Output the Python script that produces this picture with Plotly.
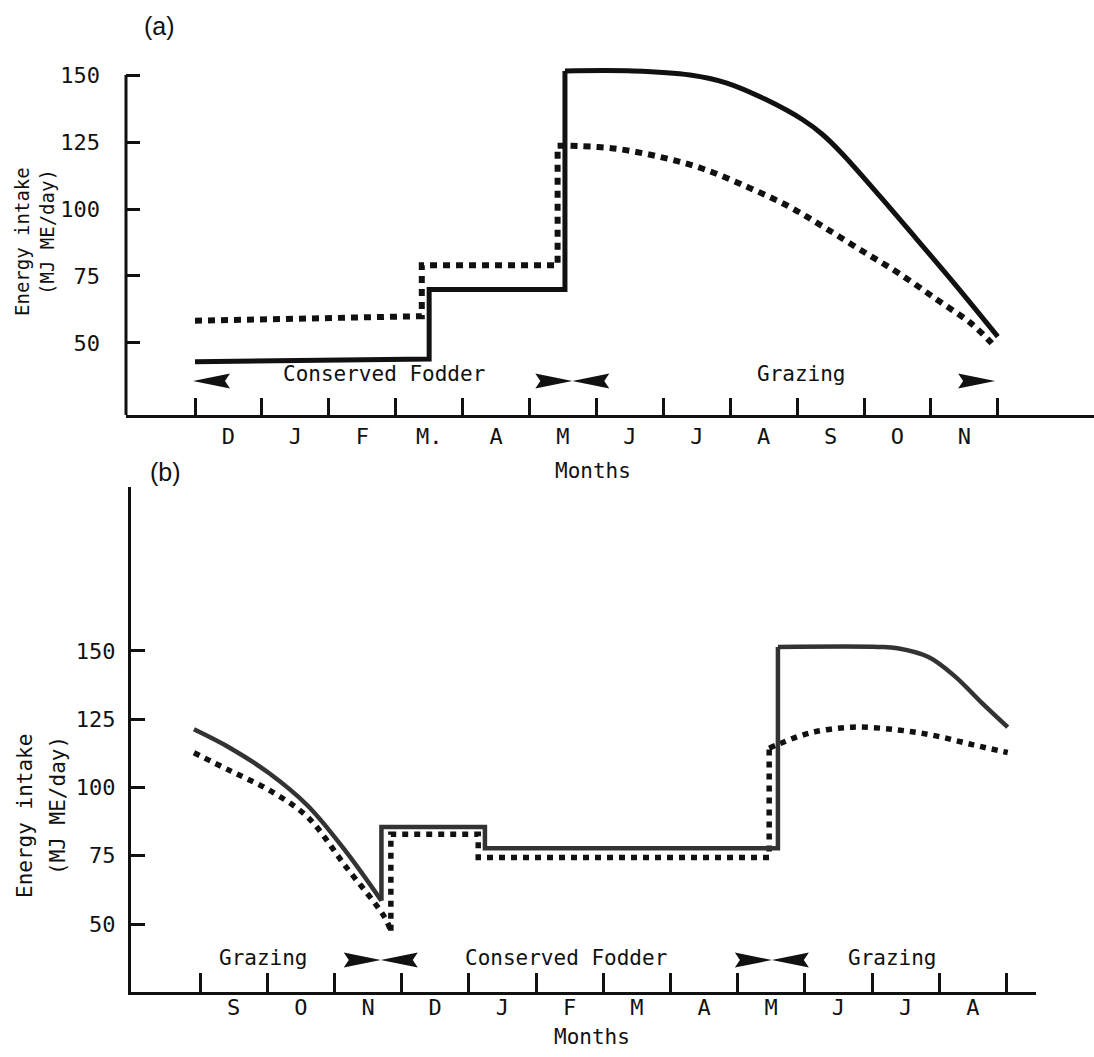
import plotly.graph_objects as go

# ---------------- data ----------------
months_a = ["D", "J", "F", "M.", "A", "M", "J", "J", "A", "S", "O", "N"]
months_b = ["S", "O", "N", "D", "J", "F", "M", "A", "M", "J", "J", "A"]
y_ticks = [50, 75, 100, 125, 150]

# panel (a) -- solid series
a_solid_fodder_x = [0.0, 3.5, 3.5, 5.53, 5.53]
a_solid_fodder_y = [43.0, 44.0, 70.0, 70.0, 151.5]
a_solid_grazing_x = [5.53, 6.55, 7.4, 7.95, 8.52, 9.09, 9.38, 9.66, 10.23, 10.8, 11.37, 12.0]
a_solid_grazing_y = [151.5, 151.5, 150.0, 147.0, 141.0, 133.2, 127.8, 121.0, 105.0, 88.4, 71.6, 52.4]
# panel (a) -- dotted series
a_dotted_fodder_x = [0.0, 3.39, 3.39, 5.42, 5.42]
a_dotted_fodder_y = [58.3, 60.0, 79.0, 79.0, 123.6]
a_dotted_grazing_x = [5.42, 5.6, 6.26, 6.94, 7.57, 8.25, 8.88, 9.39, 9.95, 10.52, 11.1, 11.6, 11.91]
a_dotted_grazing_y = [123.6, 123.6, 122.6, 119.5, 115.2, 108.3, 100.9, 93.4, 84.7, 76.0, 66.0, 57.3, 49.9]

# panel (b) -- solid series
b_solid_graze1_x = [-0.09, 0.46, 1.03, 1.6, 2.17, 2.70]
b_solid_graze1_y = [121.3, 114.3, 105.2, 93.4, 76.6, 58.5]
b_solid_fodder_x = [2.70, 2.70, 4.24, 4.24, 8.6, 8.6]
b_solid_fodder_y = [58.5, 85.5, 85.5, 77.7, 77.7, 151.5]
b_solid_graze2_x = [8.6, 10.1, 10.38, 10.84, 11.23, 11.63, 12.02]
b_solid_graze2_y = [151.5, 151.5, 151.0, 147.8, 140.8, 131.1, 122.1]
# panel (b) -- dotted series
b_dotted_graze1_x = [-0.09, 0.46, 1.03, 1.6, 2.17, 2.74, 2.84]
b_dotted_graze1_y = [112.7, 106.0, 99.0, 89.2, 71.0, 52.8, 47.5]
b_dotted_fodder_x = [2.84, 2.84, 4.14, 4.14, 8.47, 8.47]
b_dotted_fodder_y = [47.5, 82.9, 82.9, 74.4, 74.4, 114.4]
b_dotted_graze2_x = [8.47, 8.63, 9.08, 9.71, 10.38, 10.95, 11.51, 12.02]
b_dotted_graze2_y = [114.4, 116.1, 120.0, 122.1, 121.1, 118.9, 115.6, 112.8]

# phase labels and arrows (month positions)
a_phase_labels = ["Conserved Fodder", "Grazing"]
a_phase_label_x = [2.83, 9.07]
a_arrow_tips = [-0.03, 5.64, 5.64, 11.96]
a_arrow_dirs = ["left", "right", "left", "right"]
b_phase_labels = ["Grazing", "Conserved Fodder", "Grazing"]
b_phase_label_x = [0.94, 5.45, 10.31]
b_arrow_tips = [2.69, 2.69, 8.51, 8.51]
b_arrow_dirs = ["right", "left", "right", "left"]

# ---------------- figure ----------------
W, H = 1094, 1057
MONO = "DejaVu Sans Mono"
fig = go.Figure()

def add_line(x, y, xa, ya, color, width, dash, shape):
    fig.add_trace(go.Scatter(
        x=x, y=y, xaxis=xa, yaxis=ya, mode="lines",
        line=dict(color=color, width=width, dash=dash, shape=shape,
                  smoothing=1.0 if shape == "spline" else None),
        showlegend=False, hoverinfo="skip"))

# panel a
add_line(a_dotted_fodder_x, a_dotted_fodder_y, "x", "y", "#111111", 6, "7px,6px", "linear")
add_line(a_dotted_grazing_x, a_dotted_grazing_y, "x", "y", "#111111", 6, "7px,6px", "spline")
add_line(a_solid_fodder_x, a_solid_fodder_y, "x", "y", "#111111", 5, "solid", "linear")
add_line(a_solid_grazing_x, a_solid_grazing_y, "x", "y", "#111111", 5, "solid", "spline")
# panel b
add_line(b_dotted_graze1_x, b_dotted_graze1_y, "x2", "y2", "#111111", 5.5, "6px,6px", "spline")
add_line(b_dotted_fodder_x, b_dotted_fodder_y, "x2", "y2", "#111111", 5.5, "6px,6px", "linear")
add_line(b_dotted_graze2_x, b_dotted_graze2_y, "x2", "y2", "#111111", 5.5, "6px,6px", "spline")
add_line(b_solid_graze1_x, b_solid_graze1_y, "x2", "y2", "#333333", 4.5, "solid", "spline")
add_line(b_solid_fodder_x, b_solid_fodder_y, "x2", "y2", "#333333", 4.5, "solid", "linear")
add_line(b_solid_graze2_x, b_solid_graze2_y, "x2", "y2", "#333333", 4.5, "solid", "spline")

# axis geometry (pixel calibration of the original figure)
a_xrange = [-69 / 66.9, (W - 195) / 66.9]
a_yrange = [23.13, 155.0]
b_xrange = [-69 / 67.2, (1036 - 200) / 67.2]
b_yrange = [25.09, 210.07]

tickfont = dict(family=MONO, size=22, color="#111111")

def xaxis_cfg(domain, rng, labels, ticklen, standoff):
    return dict(
        domain=domain, range=rng, showgrid=False, zeroline=False,
        showline=True, linecolor="#111111", linewidth=3,
        tickmode="array", tickvals=[i + 0.5 for i in range(len(labels))],
        ticktext=labels, ticks="", tickfont=tickfont, ticklabelstandoff=standoff,
        minor=dict(tickmode="array", tickvals=list(range(len(labels) + 1)),
                   ticks="inside", ticklen=ticklen, tickwidth=2.5,
                   tickcolor="#111111", showgrid=False),
        fixedrange=True)

def yaxis_cfg(domain, rng, anchor, showline, standoff):
    return dict(
        domain=domain, range=rng, anchor=anchor, showgrid=False, zeroline=False,
        showline=showline, linecolor="#111111", linewidth=3,
        tickmode="array", tickvals=y_ticks, ticktext=[str(v) for v in y_ticks],
        ticks="inside", ticklen=14, tickwidth=2.5, tickcolor="#111111",
        tickfont=tickfont, ticklabelstandoff=standoff, fixedrange=True)

fig.update_layout(
    width=W, height=H, autosize=False,
    margin=dict(l=0, r=0, t=0, b=0),
    paper_bgcolor="white", plot_bgcolor="white",
    showlegend=False,
    xaxis=xaxis_cfg([126 / W, 1.0], a_xrange, months_a, 17, 0) | dict(anchor="y"),
    yaxis=yaxis_cfg([1 - 415 / H, 1 - 61.6 / H], a_yrange, "x", False, 25),
    xaxis2=xaxis_cfg([131 / W, 1036 / W], b_xrange, months_b, 19, -6) | dict(anchor="y2"),
    yaxis2=yaxis_cfg([1 - 992 / H, 1 - 487 / H], b_yrange, "x2", True, 8),
)

shapes = []
# panel a y-axis line ends at the top tick
shapes.append(dict(type="line", xref="x domain", yref="y", x0=0, x1=0,
                   y0=a_yrange[0], y1=max(y_ticks),
                   line=dict(color="#111111", width=3), layer="above"))

def arrow_path(direction):
    L, h, n = 37, 7.5, 5
    if direction == "left":
        return f"M0,0 L{L},{h} L{L - n},0 L{L},{-h} Z"
    return f"M0,0 L{-L},{h} L{-L + n},0 L{-L},{-h} Z"

for tip, d in zip(a_arrow_tips, a_arrow_dirs):
    shapes.append(dict(type="path", xref="x", yref="y", xsizemode="pixel", ysizemode="pixel",
                       xanchor=tip, yanchor=35.8, path=arrow_path(d),
                       fillcolor="#111111", line=dict(width=0)))
for tip, d in zip(b_arrow_tips, b_arrow_dirs):
    shapes.append(dict(type="path", xref="x2", yref="y2", xsizemode="pixel", ysizemode="pixel",
                       xanchor=tip, yanchor=36.8, path=arrow_path(d),
                       fillcolor="#111111", line=dict(width=0)))
fig.update_layout(shapes=shapes)

ann = []
for t, x in zip(a_phase_labels, a_phase_label_x):
    ann.append(dict(text=t, x=x, y=38.6, xref="x", yref="y", showarrow=False,
                    xanchor="center", yanchor="middle",
                    font=dict(family=MONO, size=21, color="#111111")))
for t, x in zip(b_phase_labels, b_phase_label_x):
    ann.append(dict(text=t, x=x, y=37.6, xref="x2", yref="y2", showarrow=False,
                    xanchor="center", yanchor="middle",
                    font=dict(family=MONO, size=21, color="#111111")))

def paper_ann(text, px, py, size, family=MONO, angle=0):
    ann.append(dict(text=text, x=px / W, y=1 - py / H, xref="paper", yref="paper",
                    showarrow=False, textangle=angle, xanchor="center", yanchor="middle",
                    font=dict(family=family, size=size, color="#111111")))

paper_ann("Months", 593, 471, 21)
paper_ann("Months", 592, 1037, 21)
paper_ann("(a)", 159, 26, 25, family="Liberation Sans")
paper_ann("(b)", 165, 472, 25, family="Liberation Sans")
paper_ann("Energy intake", 22, 242, 19, angle=-90)
paper_ann("(MJ ME/day)", 47, 232, 19, angle=-90)
paper_ann("Energy intake", 25, 816, 21, angle=-90)
paper_ann("(MJ ME/day)", 58, 805, 21, angle=-90)
fig.update_layout(annotations=ann)

fig.write_html("out.html")
